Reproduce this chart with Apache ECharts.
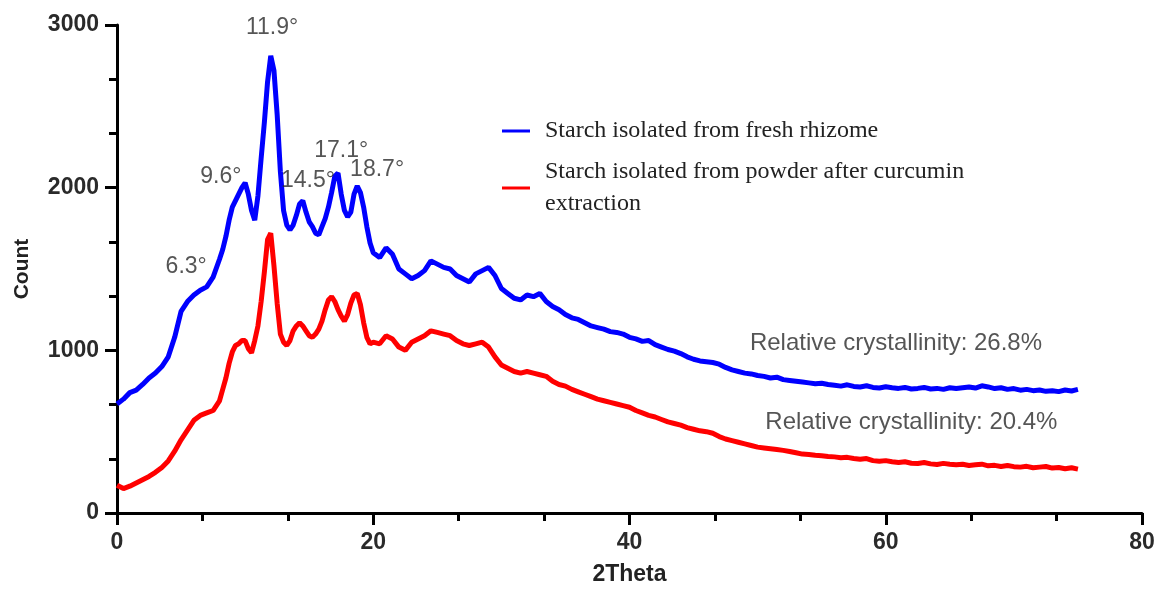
<!DOCTYPE html>
<html>
<head>
<meta charset="utf-8">
<script src="https://cdn.jsdelivr.net/npm/echarts@6/dist/echarts.min.js"></script>
<style>
html,body{margin:0;padding:0;background:#fff;}
#chart{width:1175px;height:593px;}
</style>
</head>
<body>
<div id="chart"></div>
<script>
// 2Theta sample positions (degrees)
const twoTheta = [
  0,0.5,1,1.5,2,2.5,3,3.5,4,4.5,5,5.5,6,6.5,7,7.5,8,
  8.25,8.5,8.75,9,9.25,9.5,9.75,10,
  10.25,10.5,10.75,11,11.25,11.5,11.75,12,
  12.25,12.5,12.75,13,13.25,13.5,13.75,14,
  14.25,14.5,14.75,15,15.25,15.5,15.75,16,
  16.25,16.5,16.75,17,17.25,17.5,17.75,18,
  18.25,18.5,18.75,19,19.25,19.5,19.75,20,
  20.5,21,21.5,22,22.5,23,23.5,24,24.5,25,25.5,26,26.5,27,27.5,28,28.5,29,29.5,30,
  30.5,31,31.5,32,32.5,33,33.5,34,34.5,35,
  35.5,36,36.5,37,37.5,38,38.5,39,39.5,40,
  40.5,41,41.5,42,42.5,43,43.5,44,44.5,45,
  45.5,46,46.5,47,47.5,48,48.5,49,49.5,50,
  50.5,51,51.5,52,52.5,53,53.5,54,54.5,55,
  55.5,56,56.5,57,57.5,58,58.5,59,59.5,60,
  60.5,61,61.5,62,62.5,63,63.5,64,64.5,65,
  65.5,66,66.5,67,67.5,68,68.5,69,69.5,70,
  70.5,71,71.5,72,72.5,73,73.5,74,74.5,75
];

// Starch isolated from fresh rhizome (blue)
const freshCount = [
  670,700,740,755,790,830,860,900,960,1080,1240,1300,1340,1370,1390,1450,1560,
  1620,1700,1800,1880,1920,1960,2000,2030,
  1960,1860,1800,1950,2180,2400,2650,2810,
  2720,2450,2100,1860,1770,1740,1770,1830,
  1900,1920,1850,1790,1760,1720,1710,1760,
  1810,1880,1970,2070,2090,1960,1860,1820,
  1850,1960,2010,1970,1880,1760,1660,1600,
  1570,1630,1590,1500,1470,1440,1460,1490,1550,1530,1510,1500,1460,1440,1420,1470,1490,1510,1460,1380,
  1350,1320,1310,1340,1330,1350,1300,1270,1250,1220,
  1200,1190,1170,1150,1140,1130,1115,1110,1100,1080,
  1070,1055,1060,1035,1020,1005,995,980,960,945,
  935,930,925,915,895,880,870,860,855,845,
  840,830,835,820,815,810,805,800,795,798,
  790,785,780,788,778,775,782,772,768,776,
  770,766,772,762,766,772,762,766,760,770,
  765,770,775,768,782,775,765,770,760,765,
  755,760,752,756,748,752,746,756,750,760
];

// Starch isolated from powder after curcumin extraction (red)
const powderCount = [
  170,150,165,185,205,225,250,280,320,380,450,510,570,600,615,630,690,
  760,830,920,990,1030,1040,1060,1060,
  1010,985,1060,1150,1300,1480,1680,1720,
  1520,1290,1100,1050,1030,1060,1120,1150,
  1170,1150,1120,1090,1080,1100,1130,1180,
  1250,1310,1330,1300,1250,1210,1180,1220,
  1290,1340,1350,1280,1170,1080,1040,1050,
  1040,1090,1070,1020,1000,1050,1070,1090,1120,1110,1100,1090,1060,1040,1030,1040,1050,1020,960,910,
  890,870,860,870,860,850,840,810,790,780,
  760,745,730,715,700,690,680,670,660,650,
  630,615,600,590,575,560,550,540,525,515,
  505,500,490,470,455,445,435,425,415,405,
  400,395,390,385,378,370,362,360,355,352,
  348,345,340,342,335,330,335,322,318,322,
  315,310,315,306,304,310,302,298,305,300,
  296,300,292,296,300,290,293,286,292,285,
  282,287,278,282,286,276,280,272,278,270
];

const seriesNames = [
  'Starch isolated from fresh rhizome',
  'Starch isolated from powder after curcumin\nextraction'
];

// Peak annotations: [2Theta, Count, text]
const peakLabels = [
  [12.1, 2985, '11.9°'],
  [8.1, 2070, '9.6°'],
  [5.4, 1515, '6.3°'],
  [14.9, 2045, '14.5°'],
  [17.5, 2230, '17.1°'],
  [20.3, 2110, '18.7°']
];
const crystLabels = [
  [60.8, 1045, 'Relative crystallinity: 26.8%'],
  [62.0, 560, 'Relative crystallinity: 20.4%']
];

const xTicks = { min: 0, max: 80, interval: 20 };
const yTicks = { min: 0, max: 3000, interval: 1000 };

function pairs(xs, ys) { return xs.map((x, i) => [x, ys[i]]); }

const annoData = peakLabels.map(p => ({ value: [p[0], p[1]], text: p[2] }))
  .concat(crystLabels.map(p => ({ value: [p[0], p[1]], text: p[2], label: { fontSize: 24 } })));

const chart = echarts.init(document.getElementById('chart'), null, { renderer: 'canvas' });
chart.setOption({
  animation: false,
  backgroundColor: '#fff',
  grid: { left: 117, right: 33, top: 25, bottom: 80, containLabel: false },
  legend: {
    data: seriesNames,
    orient: 'vertical',
    left: 497,
    top: 110,
    itemGap: 9,
    itemWidth: 28,
    itemHeight: 3,
    icon: 'rect',
    textStyle: {
      fontFamily: '"Liberation Serif", "Times New Roman", serif',
      fontSize: 24,
      color: '#222',
      lineHeight: 32,
      padding: [0, 0, 0, 10]
    }
  },
  xAxis: {
    type: 'value',
    min: xTicks.min, max: xTicks.max, interval: xTicks.interval,
    name: '2Theta',
    nameLocation: 'middle',
    nameGap: 50,
    nameTextStyle: { fontFamily: '"Liberation Sans Narrow", "Liberation Sans", Arial, sans-serif', fontWeight: 'bold', fontSize: 23, color: '#222' },
    axisLine: { show: true, onZero: false, lineStyle: { color: '#000', width: 3 } },
    axisTick: { show: true, inside: false, length: 12, lineStyle: { color: '#000', width: 3 } },
    minorTick: { show: true, splitNumber: 3, length: 8, lineStyle: { color: '#000', width: 3 } },
    axisLabel: { margin: 18, fontFamily: '"Liberation Sans Narrow", "Liberation Sans", Arial, sans-serif', fontWeight: 'bold', fontSize: 23, color: '#2a2a2a' },
    splitLine: { show: false }
  },
  yAxis: {
    type: 'value',
    min: yTicks.min, max: yTicks.max, interval: yTicks.interval,
    name: 'Count',
    nameLocation: 'middle',
    nameGap: 84,
    nameTextStyle: { fontFamily: '"Liberation Sans", Arial, sans-serif', fontWeight: 'bold', fontSize: 21, color: '#222' },
    axisLine: { show: true, onZero: false, lineStyle: { color: '#000', width: 3 } },
    axisTick: { show: true, inside: false, length: 12, lineStyle: { color: '#000', width: 3 } },
    minorTick: { show: true, splitNumber: 3, length: 8, lineStyle: { color: '#000', width: 3 } },
    axisLabel: {
      margin: 18,
      formatter: v => String(v),
      fontFamily: '"Liberation Sans", Arial, sans-serif', fontWeight: 'bold', fontSize: 23, color: '#2a2a2a'
    },
    splitLine: { show: false }
  },
  series: [
    {
      name: seriesNames[0],
      type: 'line',
      data: pairs(twoTheta, freshCount),
      showSymbol: false,
      symbol: 'none',
      lineStyle: { color: '#0000ff', width: 5 },
      itemStyle: { color: '#0000ff' },
      z: 3
    },
    {
      name: seriesNames[1],
      type: 'line',
      data: pairs(twoTheta, powderCount),
      showSymbol: false,
      symbol: 'none',
      lineStyle: { color: '#ff0000', width: 5 },
      itemStyle: { color: '#ff0000' },
      z: 2
    },
    {
      name: 'annotations',
      type: 'scatter',
      data: annoData,
      symbolSize: 1,
      itemStyle: { color: 'rgba(0,0,0,0)' },
      silent: true,
      z: 5,
      label: {
        show: true,
        position: 'inside',
        formatter: p => p.data.text,
        fontFamily: '"Liberation Sans", Arial, sans-serif',
        fontSize: 23,
        color: '#2b2b2b',
        textBorderWidth: 0
      }
    }
  ]
});
</script>
</body>
</html>
